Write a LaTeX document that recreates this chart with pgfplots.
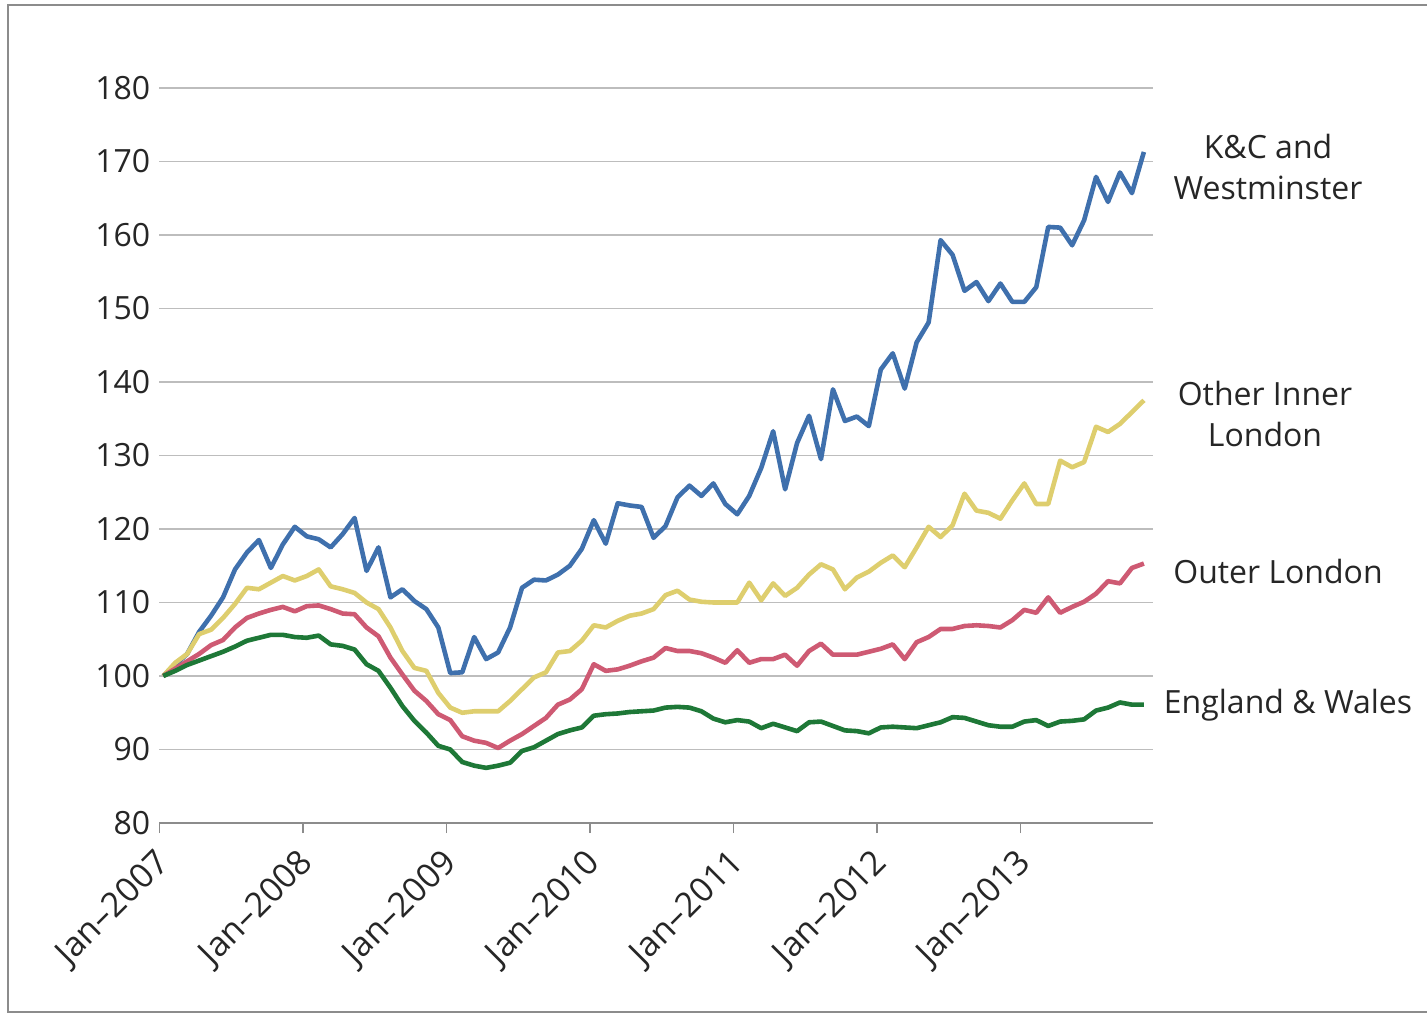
\documentclass[border=0pt]{standalone}
\usepackage{pgfplots}
\pgfplotsset{compat=1.18}
\usepackage{pgfplotstable}
\usepackage{fontspec}
\setmainfont{Open Sans}
\definecolor{kcblue}{HTML}{3F70AD}
\definecolor{oiyellow}{HTML}{DECE6E}
\definecolor{olpink}{HTML}{CE5A73}
\definecolor{ewgreen}{HTML}{1E7837}
\definecolor{gridgray}{HTML}{BDBDBD}
\definecolor{axisgray}{HTML}{8C8C8C}
\definecolor{txt}{HTML}{262626}

\pgfplotstableread{
i kc oi ol ew
0 100 100 100 100
1 101.5 101.8 101.0 100.7
2 103.0 103.0 102.0 101.5
3 106.0 105.7 103.0 102.1
4 108.2 106.3 104.2 102.7
5 110.7 107.9 104.9 103.3
6 114.5 109.8 106.6 104.0
7 116.8 112.0 107.9 104.8
8 118.5 111.8 108.5 105.2
9 114.7 112.7 109.0 105.6
10 117.9 113.6 109.4 105.6
11 120.3 113.0 108.8 105.3
12 119.0 113.6 109.5 105.2
13 118.6 114.5 109.6 105.5
14 117.5 112.2 109.1 104.3
15 119.3 111.8 108.5 104.1
16 121.5 111.3 108.4 103.6
17 114.3 110.0 106.6 101.6
18 117.5 109.1 105.4 100.7
19 110.7 106.6 102.5 98.4
20 111.8 103.4 100.2 95.9
21 110.2 101.1 98.0 93.9
22 109.1 100.7 96.6 92.3
23 106.6 97.7 94.8 90.5
24 100.4 95.7 94.0 90.0
25 100.5 95.0 91.8 88.3
26 105.3 95.2 91.2 87.8
27 102.3 95.2 90.9 87.5
28 103.2 95.2 90.2 87.8
29 106.6 96.6 91.2 88.2
30 112.0 98.2 92.1 89.8
31 113.1 99.8 93.2 90.3
32 113.0 100.5 94.3 91.2
33 113.8 103.2 96.1 92.1
34 115.0 103.4 96.8 92.6
35 117.3 104.8 98.2 93.0
36 121.2 106.9 101.6 94.6
37 118.0 106.6 100.7 94.8
38 123.5 107.5 100.9 94.9
39 123.2 108.2 101.4 95.1
40 123.0 108.5 102.0 95.2
41 118.8 109.1 102.5 95.3
42 120.4 111.0 103.8 95.7
43 124.3 111.6 103.4 95.8
44 125.9 110.4 103.4 95.7
45 124.5 110.1 103.1 95.2
46 126.2 110.0 102.5 94.2
47 123.4 110.0 101.8 93.7
48 122.0 110.0 103.5 94.0
49 124.5 112.7 101.8 93.8
50 128.3 110.3 102.3 92.9
51 133.3 112.6 102.3 93.5
52 125.4 110.9 102.9 93.0
53 131.7 112.0 101.4 92.5
54 135.4 113.8 103.4 93.7
55 129.5 115.2 104.4 93.8
56 139.0 114.5 102.9 93.2
57 134.7 111.8 102.9 92.6
58 135.3 113.4 102.9 92.5
59 134.0 114.2 103.3 92.2
60 141.7 115.4 103.7 93.0
61 143.9 116.4 104.3 93.1
62 139.1 114.8 102.3 93.0
63 145.4 117.5 104.6 92.9
64 148.1 120.3 105.3 93.3
65 159.3 118.9 106.4 93.7
66 157.3 120.5 106.4 94.4
67 152.4 124.8 106.8 94.3
68 153.6 122.5 106.9 93.8
69 151.0 122.2 106.8 93.3
70 153.4 121.4 106.6 93.1
71 150.9 123.9 107.6 93.1
72 150.9 126.2 109.0 93.8
73 152.9 123.4 108.6 94.0
74 161.1 123.4 110.7 93.2
75 161.0 129.3 108.6 93.8
76 158.6 128.4 109.4 93.9
77 162.0 129.1 110.1 94.1
78 167.9 133.9 111.2 95.3
79 164.5 133.2 112.9 95.7
80 168.5 134.3 112.6 96.4
81 165.7 135.9 114.7 96.1
82 171.3 137.5 115.3 96.1
}\datatable

\begin{document}
\begin{tikzpicture}
\useasboundingbox (0pt,0pt) rectangle (713.5pt,508pt);
\draw[axisgray, line width=0.8pt] (720pt,505.5pt) -- (4pt,505.5pt) -- (4pt,2pt) -- (720pt,2pt);
\begin{axis}[
  at={(79.65pt,96.5pt)}, anchor=south west,
  scale only axis, width=496.9pt, height=367.5pt,
  xmin=0, xmax=83.1, ymin=80, ymax=180,
  xtick={0,12,24,36,48,60,72},
  xticklabels={Jan–2007,Jan–2008,Jan–2009,Jan–2010,Jan–2011,Jan–2012,Jan–2013},
  ytick={80,90,...,180},
  axis x line*=bottom,
  axis y line*=left,
  y axis line style={draw=none},
  x axis line style={axisgray, line width=0.8pt, -},
  xtick style={axisgray, line width=0.8pt},
  ytick style={draw=none},
  major tick length=5pt,
  tick align=outside,
  ymajorgrids, grid style={gridgray, line width=0.7pt},
  every tick label/.append style={font=\fontsize{16}{19}\selectfont, text=txt},
  /pgf/number format/assume math mode=true,
  yticklabel style={anchor=east, xshift=4pt},
  xticklabel style={font=\fontsize{17}{20}\selectfont, xshift=5pt, yshift=-10pt, rotate=45, anchor=east},
  clip=false,
]
\addplot[kcblue, line width=2.3pt, line join=round] table[x expr=\thisrow{i}+0.33, y=kc] {\datatable};
\addplot[oiyellow, line width=2.3pt, line join=round] table[x expr=\thisrow{i}+0.33, y=oi] {\datatable};
\addplot[olpink, line width=2.3pt, line join=round] table[x expr=\thisrow{i}+0.33, y=ol] {\datatable};
\addplot[ewgreen, line width=2.3pt, line join=round] table[x expr=\thisrow{i}+0.33, y=ew] {\datatable};
\end{axis}
\begin{scope}[every node/.style={text=txt, font=\fontsize{16}{20.5}\selectfont, align=center}]
\node at (634pt,424.25pt) {K\&C and\\Westminster};
\node at (632.5pt,300.75pt) {Other Inner\\London};
\node at (639pt,222pt) {Outer London};
\node at (644pt,155.5pt) {England \& Wales};
\end{scope}
\end{tikzpicture}
\end{document}
